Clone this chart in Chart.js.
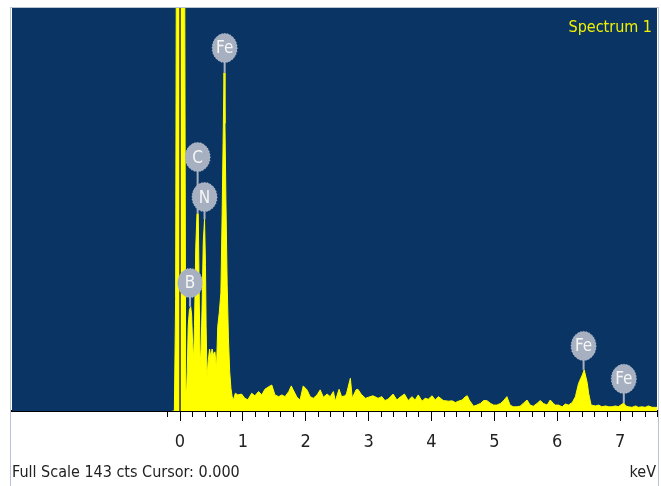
<!DOCTYPE html>
<html lang="en">
<head>
    <meta charset="utf-8">
    <title>Spectrum 1</title>
    <script src="https://cdn.jsdelivr.net/npm/chart.js"></script>
    <style>
        body { margin: 0; background: #fff; }
        #wrap { position: relative; width: 661px; height: 486px; }
        #frame { position: absolute; left: 10px; top: 7px; width: 647px; height: 479px;
                 border: 1px solid #b9c3d3; border-bottom: none; pointer-events: none; }
        .txt { position: absolute; font-family: 'Liberation Sans Narrow', 'DejaVu Sans Condensed', sans-serif;
               font-size: 16px; color: #222; line-height: 16px; }
        #spec { right: 9px; top: 19px; color: #f2f200; }
        #scale { left: 12px; top: 464px; }
        #unit { right: 5px; top: 464px; }
    </style>
</head>
<body>
<div id="wrap">
    <canvas id="eds" width="661" height="486"></canvas>
    <div id="frame"></div>
    <div class="txt" id="spec">Spectrum 1</div>
    <div class="txt" id="scale">Full Scale 143 cts Cursor: 0.000</div>
    <div class="txt" id="unit">keV</div>
</div>
<script>
    // spectrum (keV, counts)
    const energy = [
        -0.12, -0.09, -0.07, -0.055, -0.04, 0.0, 0.06, 0.075, 0.09, 0.1,
        0.115, 0.13, 0.15, 0.17, 0.185, 0.2, 0.215, 0.23, 0.25, 0.27,
        0.29, 0.305, 0.32, 0.335, 0.35, 0.37, 0.39, 0.405, 0.415, 0.43,
        0.45, 0.47, 0.49, 0.51, 0.53, 0.555, 0.58, 0.60, 0.625, 0.65,
        0.67, 0.685, 0.70, 0.715, 0.73, 0.75, 0.77, 0.79, 0.81, 0.83,
        0.85, 0.88, 0.92, 0.98, 1.03, 1.08, 1.14, 1.19, 1.25, 1.30,
        1.35, 1.41, 1.46, 1.51, 1.57, 1.62, 1.67, 1.73, 1.77, 1.80,
        1.86, 1.91, 1.96, 2.02, 2.07, 2.12, 2.18, 2.23, 2.28, 2.34,
        2.39, 2.44, 2.47, 2.53, 2.57, 2.63, 2.65, 2.71, 2.74, 2.80,
        2.83, 2.88, 2.95, 3.00, 3.07, 3.15, 3.21, 3.26, 3.31, 3.39,
        3.45, 3.50, 3.57, 3.63, 3.69, 3.74, 3.79, 3.85, 3.90, 3.95,
        4.01, 4.06, 4.11, 4.19, 4.27, 4.33, 4.38, 4.43, 4.49, 4.54,
        4.57, 4.60, 4.67, 4.72, 4.78, 4.83, 4.88, 4.94, 4.99, 5.04,
        5.10, 5.14, 5.20, 5.25, 5.30, 5.36, 5.41, 5.46, 5.52, 5.57,
        5.62, 5.68, 5.73, 5.78, 5.84, 5.89, 5.94, 5.97, 6.02, 6.08,
        6.13, 6.18, 6.24, 6.29, 6.34, 6.40, 6.43, 6.48, 6.50, 6.54,
        6.61, 6.66, 6.71, 6.77, 6.82, 6.87, 6.93, 6.97, 7.03, 7.06,
        7.09, 7.13, 7.19, 7.25, 7.29, 7.35, 7.40, 7.45, 7.51, 7.56, 7.60
    ];
    const counts = [
        0, 0, 40, 200, 300, 300, 300, 150, 10, 4,
        14, 30, 36, 37, 34, 24, 18, 30, 58, 70,
        70, 42, 16, 22, 36, 60, 68, 52, 30, 12,
        18, 22, 19, 22, 20, 21, 15, 30, 35, 42,
        70, 95, 120, 102, 75, 45, 26, 14, 8, 5,
        4, 6.3, 5.7, 6, 4.5, 4, 6.3, 5.4, 6.9, 5.7,
        7.7, 8.6, 9.2, 5.7, 5.1, 5.7, 5.1, 6.9, 8.9, 7.5,
        4.9, 3.9, 8.9, 7.5, 5.1, 4.5, 5.7, 7.5, 4.9, 6,
        5.1, 6.9, 3.5, 7.7, 5.1, 5.4, 6.3, 11.6, 4.5, 7.5,
        7.7, 6, 4.5, 4.9, 5.4, 4.5, 5.1, 3.7, 4.2, 6,
        3.9, 4.9, 6, 3.7, 5.1, 3.9, 5.7, 3.5, 4.5, 4.2,
        5.4, 3.9, 5.1, 3.7, 3.5, 3.6, 3.0, 3.5, 3.9, 5.1,
        5.4, 3.9, 1.7, 2.1, 2.7, 3.7, 3.7, 2.7, 2.1, 2.1,
        2.7, 3.5, 5.1, 2.1, 1.5, 1.5, 1.7, 2.7, 3.9, 2.1,
        1.7, 2.7, 3.7, 2.7, 2.1, 3.9, 2.7, 2.1, 2.1, 1.5,
        2.5, 2.1, 3.0, 5.1, 9.8, 12.8, 14.6, 9.8, 6.3, 2.1,
        1.8, 2.1, 1.5, 1.8, 1.5, 1.5, 1.8, 1.5, 2.4, 2.8,
        1.8, 1.5, 1.3, 1.8, 1.3, 1.5, 1.3, 1.8, 1.3, 1.3, 1.3
    ];

    // element markers
    const peakNames = ['B', 'C', 'N', 'Fe', 'Fe', 'Fe'];
    const peakKeV   = [0.16, 0.28, 0.39, 0.71, 6.42, 7.06];
    const labelCts  = [45.4, 90.1, 75.9, 128.8, 23.1, 11.4];
    const stemCts   = [37, 70, 68, 120, 14.6, 2.8];

    const majorTicks = [0, 1, 2, 3, 4, 5, 6, 7];
    const minorTicks = [];
    for (let v = -0.2; v < 7.61; v += 0.2) minorTicks.push(Math.round(v * 10) / 10);

    const fullScale = 143;
    const xMin = -2.673, xMax = 7.588;
    const narrow = "'Liberation Sans Narrow', 'DejaVu Sans Condensed', sans-serif";

    const edsPlugin = {
        id: 'eds',
        beforeDatasetsDraw(chart) {
            const a = chart.chartArea, ctx = chart.ctx;
            ctx.save();
            ctx.fillStyle = '#0a3464';
            ctx.fillRect(a.left, a.top, a.right - a.left, a.bottom - a.top);
            ctx.restore();
        },
        afterDatasetsDraw(chart) {
            const ctx = chart.ctx, a = chart.chartArea;
            const x = chart.scales.x, y = chart.scales.y;
            ctx.save();
            // cursor at 0.000
            ctx.strokeStyle = '#111';
            ctx.lineWidth = 1.3;
            ctx.beginPath();
            ctx.moveTo(x.getPixelForValue(0), a.top);
            ctx.lineTo(x.getPixelForValue(0), a.bottom);
            ctx.stroke();
            // stems first, then markers on top
            ctx.strokeStyle = '#a6b0c1';
            ctx.lineWidth = 2;
            peakNames.forEach((n, i) => {
                const px = x.getPixelForValue(peakKeV[i]);
                ctx.beginPath();
                ctx.moveTo(px, y.getPixelForValue(labelCts[i]));
                ctx.lineTo(px, y.getPixelForValue(stemCts[i]));
                ctx.stroke();
            });
            peakNames.forEach((n, i) => {
                const px = x.getPixelForValue(peakKeV[i]);
                const py = y.getPixelForValue(labelCts[i]);
                ctx.fillStyle = '#a6b0c1';
                ctx.beginPath();
                ctx.ellipse(px, py, 12.5, 14.5, 0, 0, Math.PI * 2);
                ctx.fill();
                ctx.strokeStyle = '#c3cad6';
                ctx.lineWidth = 1;
                ctx.setLineDash([1, 2]);
                ctx.stroke();
                ctx.setLineDash([]);
                ctx.fillStyle = '#f6f6f6';
                ctx.font = '17px ' + narrow;
                ctx.textAlign = 'center';
                ctx.textBaseline = 'middle';
                ctx.fillText(n, px, py + 1);
            });
            ctx.restore();
        }
    };

    new Chart(document.getElementById('eds'), {
        type: 'line',
        data: {
            datasets: [{
                data: energy.map((e, i) => ({ x: e, y: counts[i] })),
                borderColor: '#ffff00',
                backgroundColor: '#ffff00',
                borderWidth: 1,
                pointRadius: 0,
                tension: 0,
                fill: 'origin',
                xAxisID: 'x'
            }]
        },
        options: {
            responsive: false,
            animation: false,
            events: [],
            layout: { padding: { left: 12, right: 4, top: 8, bottom: 0 } },
            plugins: { legend: { display: false }, tooltip: { enabled: false } },
            scales: {
                xm: {
                    type: 'linear', position: 'bottom', min: xMin, max: xMax, weight: 0,
                    afterBuildTicks: s => { s.ticks = minorTicks.map(v => ({ value: v })); },
                    afterFit: s => { s.height = 0; },
                    ticks: { display: false },
                    border: { display: false },
                    grid: { drawOnChartArea: false, drawTicks: true, tickLength: 6, color: '#000', lineWidth: 1 }
                },
                x: {
                    type: 'linear', position: 'bottom', min: xMin, max: xMax, weight: 1,
                    afterBuildTicks: s => { s.ticks = majorTicks.map(v => ({ value: v })); },
                    afterFit: s => { s.height = 75; },
                    ticks: {
                        autoSkip: false, maxRotation: 0, padding: 11, color: '#222',
                        font: { family: narrow, size: 18 },
                        callback: v => String(v)
                    },
                    border: { display: true, color: '#000', width: 2 },
                    grid: { drawOnChartArea: false, drawTicks: true, tickLength: 10, color: '#000', lineWidth: 1 }
                },
                y: { display: false, min: 0, max: fullScale }
            }
        },
        plugins: [edsPlugin]
    });
</script>
</body>
</html>
